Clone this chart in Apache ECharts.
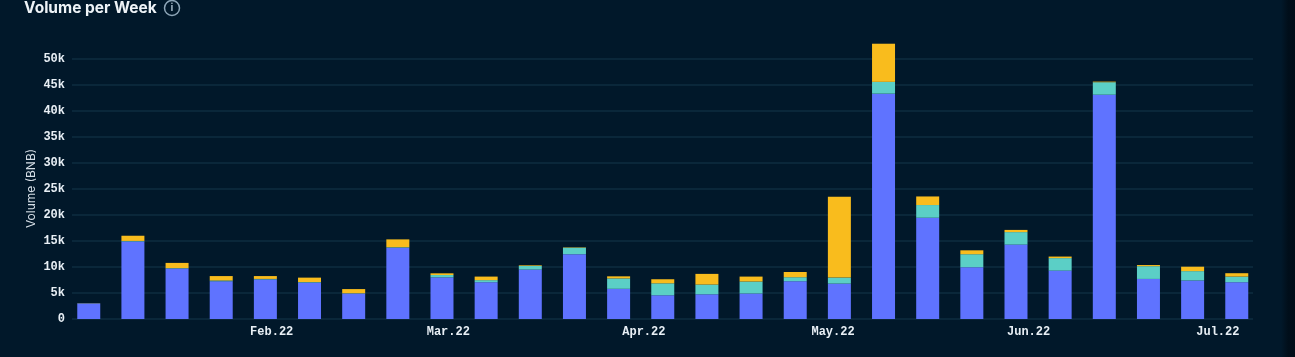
<!DOCTYPE html>
<html>
<head>
<meta charset="utf-8">
<title>Volume per Week</title>
<script src="https://cdn.jsdelivr.net/npm/echarts@6/dist/echarts.min.js"></script>
<style>
  html, body { margin: 0; padding: 0; background: #01182a; }
  #chart { width: 1295px; height: 357px; }
</style>
</head>
<body>
<div id="chart"></div>
<script>
// weeks, starting Monday
const weeks = [
  "2022-01-03", "2022-01-10", "2022-01-17", "2022-01-24", "2022-01-31", "2022-02-07", "2022-02-14",
  "2022-02-21", "2022-02-28", "2022-03-07", "2022-03-14", "2022-03-21", "2022-03-28", "2022-04-04",
  "2022-04-11", "2022-04-18", "2022-04-25", "2022-05-02", "2022-05-09", "2022-05-16", "2022-05-23",
  "2022-05-30", "2022-06-06", "2022-06-13", "2022-06-20", "2022-06-27", "2022-07-04"
];
const blueValues = [
  3000, 14900, 9700, 7250, 7600, 7000, 4900, 13700, 8000, 7070, 9500, 12450, 5800, 4560,
  4750, 4900, 7260, 6800, 43300, 19460, 9950, 14300, 9300, 43100, 7700, 7400, 7070
];
const tealValues = [
  20, 100, 80, 150, 100, 100, 50, 100, 450, 400, 700, 1250, 2000, 2300,
  1870, 2300, 770, 1160, 2270, 2440, 2500, 2400, 2400, 2400, 2450, 1800, 1080
];
const yellowValues = [
  30, 1000, 1000, 850, 550, 850, 800, 1500, 330, 680, 120, 70, 400, 780,
  2050, 950, 1000, 15540, 7330, 1650, 750, 420, 300, 120, 220, 850, 650
];
const monthTicks = ["2022-02-01", "2022-03-01", "2022-04-01", "2022-05-01", "2022-06-01", "2022-07-01"];

const toPoints = (values) => values.map((v, i) => [weeks[i], v]);
const monoFont = '"Liberation Mono", monospace';

const myChart = echarts.init(document.getElementById("chart"));
myChart.setOption({
  backgroundColor: "#01182a",
  animation: false,
  useUTC: true,
  title: {
    text: "Volume per Week",
    left: 19,
    top: -5,
    textStyle: { color: "#eef3f7", fontFamily: "Inter", fontSize: 15.5, fontWeight: 700 },
  },
  graphic: [
    {
      type: "circle",
      shape: { cx: 172, cy: 8, r: 7.5 },
      style: { fill: "none", stroke: "#8ea6b8", lineWidth: 1.5 },
    },
    {
      type: "text",
      x: 172,
      y: 8,
      style: {
        text: "i",
        fill: "#a9bccb",
        font: "600 11px Inter",
        align: "center",
        verticalAlign: "middle",
      },
    },
    // darker strip along the right edge
    {
      type: "rect",
      shape: { x: 1281, y: 0, width: 14, height: 357 },
      style: {
        fill: {
          type: "linear",
          x: 0, y: 0, x2: 1, y2: 0,
          colorStops: [
            { offset: 0, color: "rgba(0, 8, 16, 0)" },
            { offset: 0.5, color: "rgba(0, 8, 16, 0.6)" },
            { offset: 1, color: "rgba(0, 8, 16, 0.7)" },
          ],
        },
      },
    },
  ],
  grid: { left: 72, right: 42, top: 38, bottom: 38 },
  xAxis: {
    type: "time",
    // the bar layout widens this range by about 1.8 days each side
    min: "2022-01-02T04:00:00Z",
    max: "2022-07-04T18:00:00Z",
    axisLine: { show: false },
    axisTick: { show: false },
    splitLine: { show: false },
    axisLabel: {
      customValues: monthTicks.map((d) => +new Date(d)),
      formatter: "{MMM}.{yy}",
      color: "#e8eff5",
      fontFamily: monoFont,
      fontWeight: "bold",
      fontSize: 12,
      margin: 7,
    },
  },
  yAxis: {
    type: "value",
    min: 0,
    max: 54000,
    interval: 5000,
    name: "Volume (BNB)",
    nameLocation: "middle",
    nameGap: 35,
    nameMoveOverlap: false,
    nameTextStyle: { color: "#d5dee6", fontFamily: "Inter", fontSize: 12, padding: [0, 20, 0, 0] },
    axisLine: { show: false },
    axisTick: { show: false },
    axisLabel: {
      showMaxLabel: false,
      color: "#e8eff5",
      fontFamily: monoFont,
      fontWeight: "bold",
      fontSize: 12,
      margin: 7,
      padding: [3, 0, 0, 0],
      formatter: (v) => (v === 0 ? "0" : v / 1000 + "k"),
    },
    splitLine: { showMaxLine: false, lineStyle: { color: "#0e2c41", width: 1.5 } },
  },
  series: [
    { name: "Blue", type: "bar", stack: "volume", barWidth: 23, data: toPoints(blueValues), itemStyle: { color: "#5f73ff" } },
    { name: "Teal", type: "bar", stack: "volume", barWidth: 23, data: toPoints(tealValues), itemStyle: { color: "#5bcfc6" } },
    { name: "Yellow", type: "bar", stack: "volume", barWidth: 23, data: toPoints(yellowValues), itemStyle: { color: "#f9bc1d" } },
  ],
});
</script>
</body>
</html>
